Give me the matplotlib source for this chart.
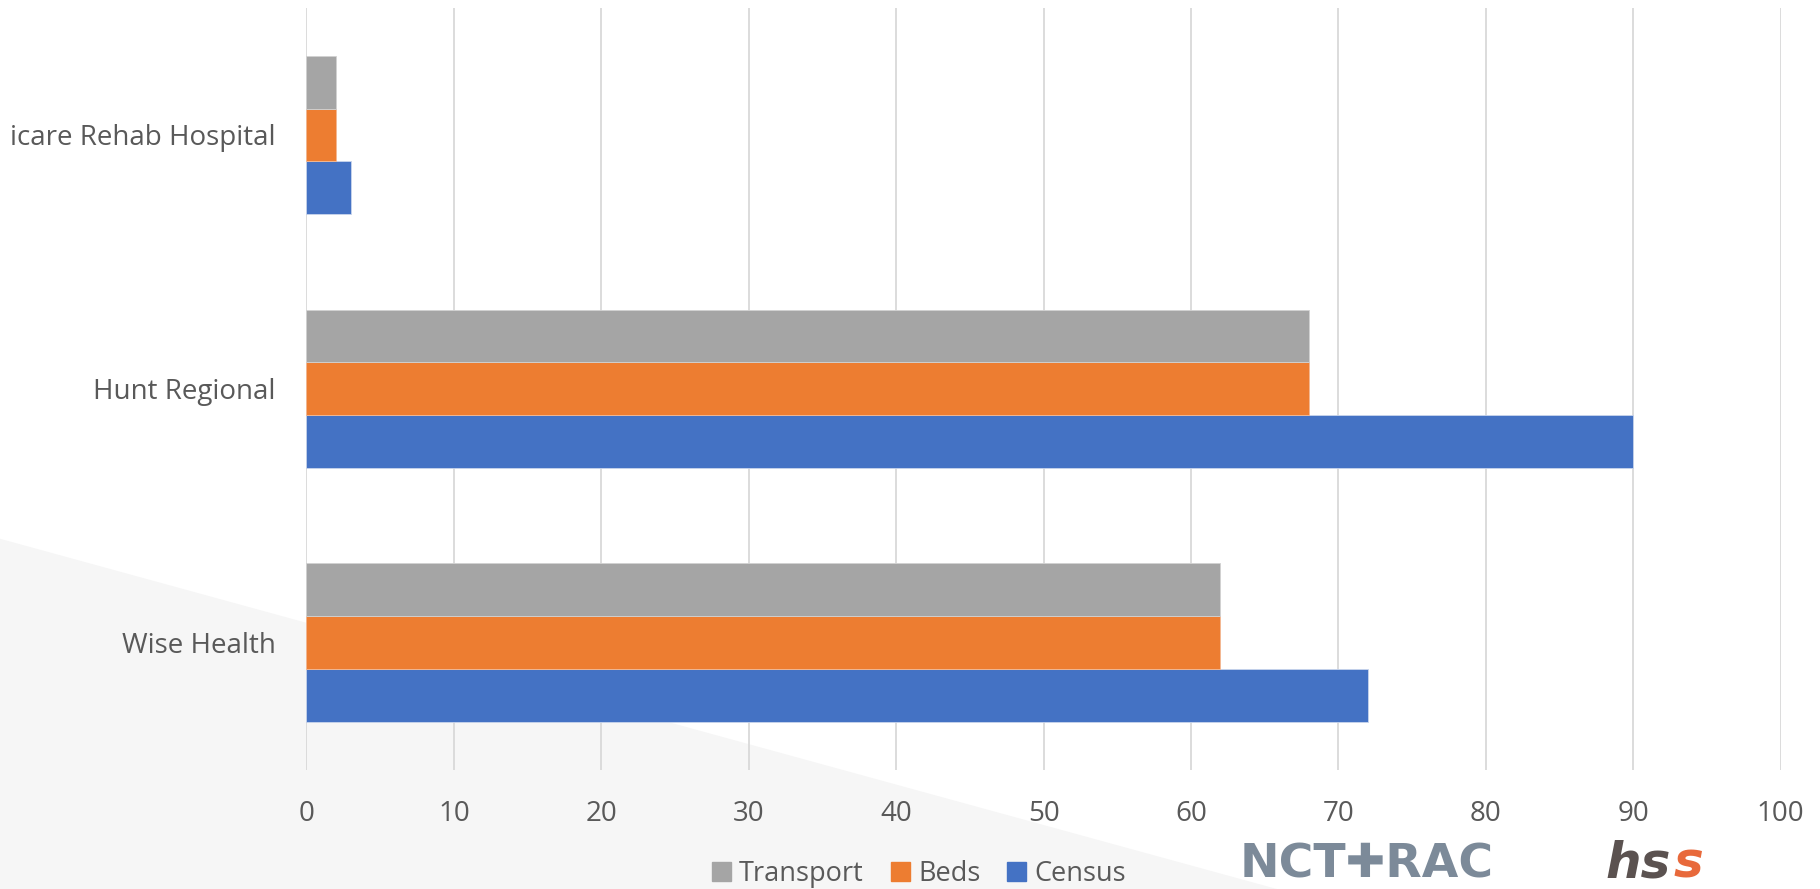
import matplotlib
matplotlib.use("Agg")
import matplotlib.pyplot as plt
from matplotlib.patches import Polygon, Patch
import numpy as np

categories = ["Wise Health", "Hunt Regional", "icare Rehab Hospital"]
census = [72, 90, 3]
beds = [62, 68, 2]
transport = [62, 68, 2]
xticks = [0, 10, 20, 30, 40, 50, 60, 70, 80, 90, 100]

plt.rcParams['font.family'] = ['Open Sans', 'DejaVu Sans']

fig = plt.figure(figsize=(18.2, 8.89), dpi=100)
fig.patch.set_facecolor('white')

# background axes with light gray triangle
bg = fig.add_axes([0, 0, 1, 1], zorder=-5)
bg.set_xlim(0, 1)
bg.set_ylim(0, 1)
bg.axis('off')
bg.add_patch(Polygon([(0, 0.394), (0.7016, 0.0), (0, 0)], closed=True,
                     facecolor='#f6f6f6', edgecolor='none'))

ax = fig.add_axes([0.1684, 0.1344, 0.8100, 0.8566], zorder=1)
ax.set_facecolor('none')

y = np.arange(len(categories))
h = 0.208
ax.barh(y - h, census, height=h, color='#4472C4', edgecolor='#c9d5ec', linewidth=0.6, label='Census', zorder=3)
ax.barh(y, beds, height=h, color='#ED7D31', edgecolor='#f3b893', linewidth=0.6, label='Beds', zorder=3)
ax.barh(y + h, transport, height=h, color='#A5A5A5', edgecolor='#d2d2d2', linewidth=0.6, label='Transport', zorder=3)

ax.set_xlim(0, 100)
ax.set_ylim(-0.5, 2.5)
ax.set_xticks(xticks)
ax.set_xticklabels([str(t) for t in xticks])
ax.set_yticks(y)
ax.set_yticklabels(categories)
ax.grid(axis='x', color='#d9d9d9', linewidth=1.3, zorder=1)
ax.set_axisbelow(True)
for s in ax.spines.values():
    s.set_visible(False)
ax.tick_params(axis='both', length=0, labelsize=20, labelcolor='#595959')
ax.tick_params(axis='x', pad=22)
ax.tick_params(axis='y', pad=22)

handles = [Patch(color='#A5A5A5', label='Transport'),
           Patch(color='#ED7D31', label='Beds'),
           Patch(color='#4472C4', label='Census')]
fig.legend(handles=handles, loc='center', bbox_to_anchor=(0.505, 0.017), ncol=3,
           frameon=False, fontsize=19.5, labelcolor='#595959',
           handlelength=0.7, handleheight=0.7, handletextpad=0.3, columnspacing=1.0)

# logos approximated as text (kept below the tick labels)
fig.text(0.681, 0.002, "NCT\u271aRAC", fontsize=34, fontweight='bold', color='#7c8a99',
         ha='left', va='bottom', family=['DejaVu Sans'])
t1 = fig.text(0.882, 0.002, "hs", fontsize=36, fontweight='bold', fontstyle='oblique',
              color='#5b5250', ha='left', va='bottom', family=['DejaVu Sans'])
fig.canvas.draw()
ext = t1.get_window_extent(renderer=fig.canvas.get_renderer())
x_next = (ext.x1 + 3) / fig.bbox.width
fig.text(x_next, 0.002, "s", fontsize=36, fontweight='bold', fontstyle='oblique',
         color='#e8693b', ha='left', va='bottom', family=['DejaVu Sans'])

fig.savefig("out.png", dpi=100, facecolor='white')
